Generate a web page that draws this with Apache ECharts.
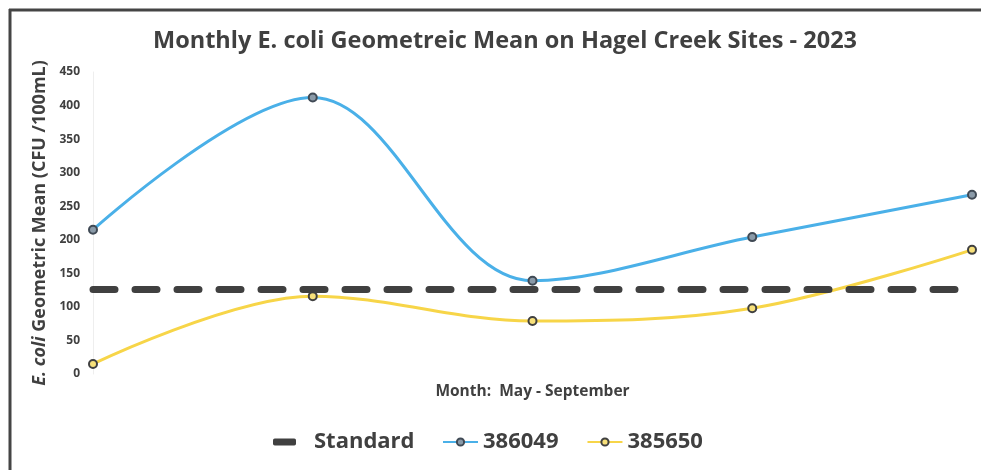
<!DOCTYPE html>
<html>
<head>
<meta charset="utf-8">
<script src="https://cdn.jsdelivr.net/npm/echarts@6/dist/echarts.min.js"></script>
<style>
  html, body { margin: 0; padding: 0; background: #fff; }
  #main { width: 981px; height: 470px; }
</style>
</head>
<body>
<div id="main"></div>
<script>
var months = ['May', 'June', 'July', 'August', 'September'];
var site386049 = [215, 412, 139, 204, 267];
var site385650 = [15, 116, 79, 98, 185];
var standard = [126, 126, 126, 126, 126];

var chart = echarts.init(document.getElementById('main'));

var legendText = {
  fontFamily: 'Open Sans',
  fontSize: 22,
  fontWeight: 'bold',
  color: '#404040'
};

var option = {
  backgroundColor: '#fff',
  title: {
    text: 'Monthly E. coli Geometreic Mean on Hagel Creek Sites - 2023',
    left: 148,
    top: 24,
    textStyle: {
      fontFamily: 'Open Sans',
      fontSize: 23.5,
      fontWeight: 'bold',
      color: '#404040'
    }
  },
  legend: [
    {
      left: 268,
      bottom: 12,
      itemWidth: 23,
      itemHeight: 7,
      itemGap: 0,
      textStyle: Object.assign({ padding: [0, 0, 0, 13] }, legendText),
      data: [{ name: 'Standard', icon: 'roundRect', itemStyle: { color: '#404040' } }]
    },
    {
      left: 437,
      bottom: 12,
      itemWidth: 35,
      itemHeight: 9,
      itemGap: 28,
      textStyle: legendText,
      data: ['386049', '385650']
    }
  ],
  grid: {
    left: 93,
    right: 9,
    top: 72,
    bottom: 96
  },
  xAxis: {
    type: 'category',
    data: months,
    boundaryGap: false,
    name: 'Month:  May - September',
    nameLocation: 'middle',
    nameGap: 10,
    nameTextStyle: {
      fontFamily: 'Open Sans',
      fontSize: 15.5,
      fontWeight: 'bold',
      color: '#404040'
    },
    axisLine: { show: false },
    axisTick: { show: false },
    axisLabel: { show: false },
    splitLine: { show: false }
  },
  yAxis: {
    type: 'value',
    min: 0,
    max: 450,
    interval: 50,
    name: '{i|E. coli} Geometric Mean (CFU /100mL)',
    nameLocation: 'middle',
    nameGap: 44,
    nameTextStyle: {
      fontFamily: 'Open Sans',
      fontSize: 18,
      fontWeight: 'bold',
      color: '#404040',
      rich: {
        i: {
          fontFamily: 'Open Sans',
          fontSize: 18,
          fontWeight: 'bold',
          fontStyle: 'italic',
          color: '#404040'
        }
      }
    },
    axisLine: { show: true, lineStyle: { color: '#eeeeee', width: 1 } },
    axisTick: { show: false },
    axisLabel: {
      fontFamily: 'Open Sans',
      fontSize: 12,
      fontWeight: 'bold',
      color: '#404040',
      margin: 13
    },
    splitLine: { show: false }
  },
  series: [
    {
      name: 'Standard',
      type: 'line',
      data: standard,
      symbol: 'none',
      z: 3,
      lineStyle: { color: '#404040', width: 7, type: [22, 20], cap: 'round' },
      itemStyle: { color: '#404040' }
    },
    {
      name: '386049',
      type: 'line',
      data: site386049,
      smooth: 0.35,
      symbol: 'circle',
      symbolSize: 8,
      z: 4,
      lineStyle: { color: '#4ab0e8', width: 3 },
      itemStyle: { color: '#8a9aa8', borderColor: '#404a55', borderWidth: 2 }
    },
    {
      name: '385650',
      type: 'line',
      data: site385650,
      smooth: 0.35,
      symbol: 'circle',
      symbolSize: 8,
      z: 2,
      lineStyle: { color: '#f7d548', width: 3 },
      itemStyle: { color: '#f7e07a', borderColor: '#404040', borderWidth: 2 }
    }
  ],
  graphic: [
    {
      type: 'line',
      shape: { x1: 9, y1: 10, x2: 981, y2: 10 },
      style: { stroke: '#444', lineWidth: 3 }
    },
    {
      type: 'line',
      shape: { x1: 10, y1: 9, x2: 10, y2: 470 },
      style: { stroke: '#444', lineWidth: 3 }
    }
  ]
};

chart.setOption(option);
</script>
</body>
</html>
